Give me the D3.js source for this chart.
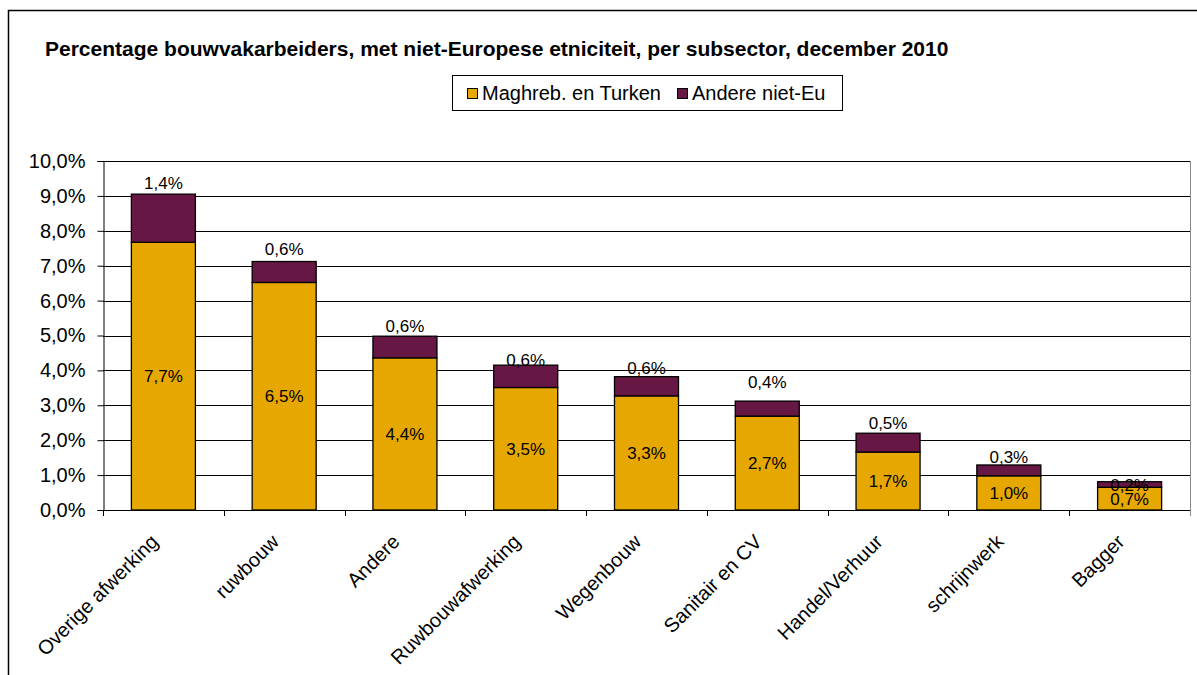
<!DOCTYPE html>
<html><head><meta charset="utf-8">
<script src="https://cdn.jsdelivr.net/npm/d3@7"></script>
<style>body{margin:0;background:#fff}svg{display:block;font-family:"Liberation Sans",Arial,sans-serif}</style>
</head><body><svg id="c" width="1197" height="675"></svg>
<script>
const categories = ["Overige afwerking","ruwbouw","Andere","Ruwbouwafwerking","Wegenbouw","Sanitair en CV","Handel/Verhuur","schrijnwerk","Bagger"];
const maghreb = [7.67, 6.52, 4.36, 3.51, 3.27, 2.69, 1.66, 0.98, 0.65];
const andere = [1.38, 0.60, 0.62, 0.64, 0.55, 0.43, 0.54, 0.31, 0.16];
const maghrebLabels = ["7,7%","6,5%","4,4%","3,5%","3,3%","2,7%","1,7%","1,0%","0,7%"];
const andereLabels = ["1,4%","0,6%","0,6%","0,6%","0,6%","0,4%","0,5%","0,3%","0,2%"];
const andereLabelAt = [9.37, 7.48, 5.27, 4.30, 4.07, 3.67, 2.49, 1.52, 0.72];
const yTicks = [0,1,2,3,4,5,6,7,8,9,10];
const seriesNames = ["Maghreb. en Turken","Andere niet-Eu"];
const colors = ["#E6A800","#661743"];

const svg = d3.select("#c");
// outer frame
svg.append("rect").attr("x",8.5).attr("y",10.5).attr("width",1200).attr("height",700)
  .attr("fill","none").attr("stroke","#000").attr("stroke-width",1.5);

const L=103, R=1190, T=161, B=510;
const x = d3.scaleBand().domain(categories).range([L,R]).paddingInner(0.47).paddingOuter(0.235);
const xb = d3.scaleBand().domain(categories).range([L,R]);
const y = d3.scaleLinear().domain([0,10]).range([B,T]);

// gridlines
svg.append("g").selectAll("line").data(yTicks.filter(d=>d>0)).join("line")
  .attr("x1",L).attr("x2",R).attr("y1",d=>Math.round(y(d))+0.5).attr("y2",d=>Math.round(y(d))+0.5)
  .attr("stroke","#000").attr("stroke-width",1);
// plot right border
svg.append("line").attr("x1",R+0.5).attr("x2",R+0.5).attr("y1",T).attr("y2",B+6).attr("stroke","#888");

// y axis
const yAxis = d3.axisLeft(y).tickValues(yTicks).tickSize(6).tickPadding(12)
  .tickFormat(d=>d.toFixed(1).replace(".",",")+"%");
const gy = svg.append("g").attr("transform",`translate(${L+0.5},0)`).call(yAxis);
gy.select(".domain").attr("stroke","#000");
gy.selectAll(".tick line").attr("stroke","#000");
gy.selectAll("text").attr("font-size",20).attr("fill","#000").attr("font-family","Liberation Sans, Arial, sans-serif");

// x axis
svg.append("line").attr("x1",L).attr("x2",R).attr("y1",B+0.5).attr("y2",B+0.5).attr("stroke","#000");
svg.append("g").selectAll("line").data(categories).join("line")
  .attr("x1",d=>Math.round(xb(d))+0.5).attr("x2",d=>Math.round(xb(d))+0.5)
  .attr("y1",B).attr("y2",B+6).attr("stroke","#000");

// stacks
const rows = categories.map((c,i)=>({cat:c, m:maghreb[i], a:andere[i]}));
const stack = d3.stack().keys(["m","a"])(rows);
svg.append("g").selectAll("g").data(stack).join("g").attr("fill",(d,i)=>colors[i])
  .selectAll("rect").data(d=>d).join("rect")
  .attr("x",d=>x(d.data.cat)).attr("width",x.bandwidth())
  .attr("y",d=>y(d[1])).attr("height",d=>y(d[0])-y(d[1]))
  .attr("stroke","#000").attr("stroke-width",1.3);

// labels
svg.append("g").selectAll("text").data(rows).join("text")
  .attr("x",d=>x(d.cat)+x.bandwidth()/2).attr("y",d=>y(d.m/2)).attr("dy","0.35em")
  .attr("text-anchor","middle").attr("font-size",17).text((d,i)=>maghrebLabels[i]);
svg.append("g").selectAll("text").data(rows).join("text")
  .attr("x",d=>x(d.cat)+x.bandwidth()/2).attr("y",(d,i)=>y(andereLabelAt[i])).attr("dy","0.35em")
  .attr("text-anchor","middle").attr("font-size",17).text((d,i)=>andereLabels[i]);

// x labels
svg.append("g").selectAll("text").data(categories).join("text")
  .attr("transform",d=>`translate(${xb(d)+xb.bandwidth()/2-4},${B+33}) rotate(-45)`)
  .attr("text-anchor","end").attr("font-size",20).text(d=>d);

// title
svg.append("text").attr("x",45).attr("y",56).attr("font-weight","bold").attr("font-size",21)
  .text("Percentage bouwvakarbeiders, met niet-Europese etniciteit, per subsector, december 2010");

// legend
const lg = svg.append("g");
lg.append("rect").attr("x",452.5).attr("y",75.5).attr("width",390).attr("height",35)
  .attr("fill","#fff").attr("stroke","#000");
const lgItems = [{n:seriesNames[0],c:colors[0],x:467},{n:seriesNames[1],c:colors[1],x:677}];
lgItems.forEach(it=>{
  lg.append("rect").attr("x",it.x+0.5).attr("y",88.5).attr("width",10).attr("height",10)
    .attr("fill",it.c).attr("stroke","#000");
  lg.append("text").attr("x",it.x+15).attr("y",100).attr("font-size",20).text(it.n);
});
</script></body></html>
